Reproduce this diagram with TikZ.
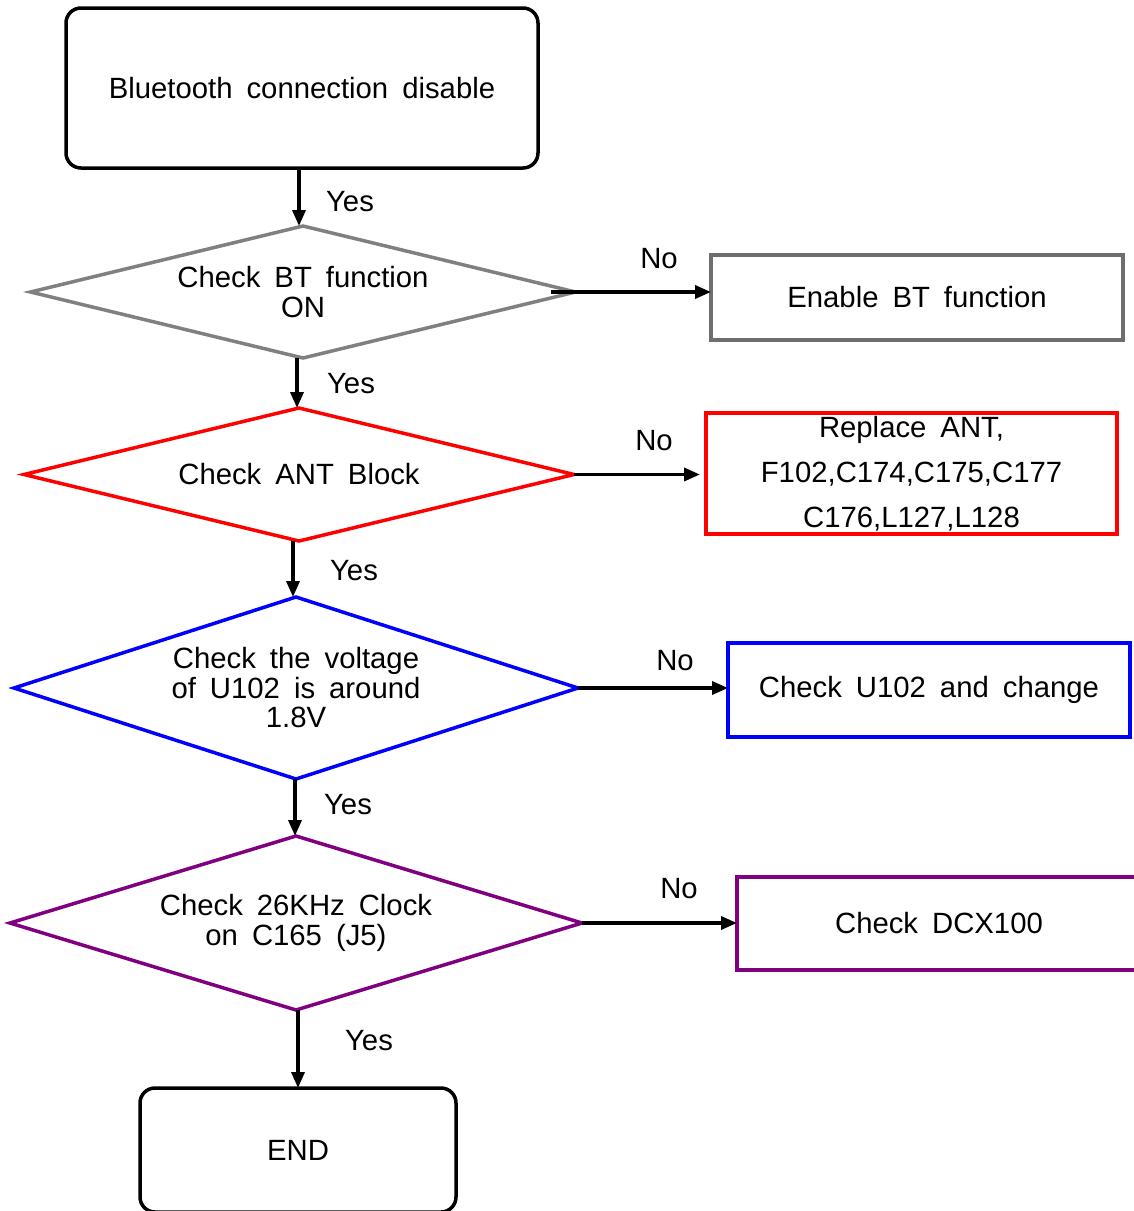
\documentclass[tikz,border=0pt]{standalone}
\usepackage{fontspec}
\setmainfont{Liberation Sans}
\usetikzlibrary{shapes.geometric,arrows.meta}
\newcommand\ffont{\fontsize{29.3}{29.5}\selectfont\spaceskip=14pt plus 1pt\relax}
\newcommand\rfont{\fontsize{29.3}{45}\selectfont\spaceskip=14pt plus 1pt\relax}
\definecolor{dgray}{RGB}{128,128,128}
\definecolor{bgray}{RGB}{110,110,110}
\definecolor{pur}{RGB}{128,0,128}
\begin{document}
\begin{tikzpicture}[x=1pt,y=-1pt,
  every node/.style={font=\ffont, inner sep=0pt, outer sep=0pt, align=center},
  roundbox/.style={draw=black, line width=3.5pt, rounded corners=15pt, rectangle},
  plainbox/.style={draw, line width=3.5pt, rectangle},
  dec/.style={draw, line width=3.5pt, diamond},
  arr/.style={draw=black, line width=3.5pt, -{Triangle[length=16pt,width=13pt]}}]
\useasboundingbox (0,0) rectangle (1134,1211);
\clip (0,0) rectangle (1134,1211);

\node[roundbox, minimum width=472pt, minimum height=160pt] (s) at (302,88) {Bluetooth connection disable};
\node[dec, draw=dgray, aspect=4.2, minimum width=545pt, minimum height=132pt] (d1) at (303,292) {Check BT function\\ON};
\node[plainbox, draw=bgray, minimum width=412pt, minimum height=85pt] (en) at (917,297.5) {Enable BT function};
\node[dec, draw=red, aspect=4.17, minimum width=550pt, minimum height=133pt] (d2) at (299,474.5) {Check ANT Block};
\node[plainbox, draw=red, minimum width=411pt, minimum height=121pt, font=\rfont] (rp) at (911.5,473.5) {Replace ANT,\\F102,C174,C175,C177\\C176,L127,L128};
\node[dec, draw=blue, aspect=3.11, minimum width=564pt, minimum height=182pt] (d3) at (296,688) {Check the voltage\\of U102 is around\\1.8V};
\node[plainbox, draw=blue, minimum width=402pt, minimum height=94pt] (u) at (929,690) {Check U102 and change};
\node[dec, draw=pur, aspect=3.3, minimum width=572pt, minimum height=174pt] (d4) at (296,923) {Check 26KHz Clock\\on C165 (J5)};
\node[plainbox, draw=pur, minimum width=404pt, minimum height=93pt] (dc) at (939,923.5) {Check DCX100};
\node[roundbox, minimum width=316pt, minimum height=124pt] (e) at (298,1150) {END};

\draw[arr] ([xshift=-3pt]s.south) -- ([xshift=-3pt]s.south |- d1.north);
\draw[arr] ([xshift=-2pt]d2.north |- d1.south) -- ([xshift=-2pt]d2.north);
\draw[arr] ([xshift=-3pt]d3.north |- d2.south) -- ([xshift=-3pt]d3.north);
\draw[arr] ([xshift=-1pt]d4.north |- d3.south) -- ([xshift=-1pt]d4.north);
\draw[arr] (e.north |- d4.south) -- (e.north);

\draw[arr] ([xshift=-25pt]d1.east) -- (d1.east -| en.west);
\draw[arr] (d2.east) -- ([xshift=-6pt]d2.east -| rp.west);
\draw[arr] (d3.east) -- (d3.east -| u.west);
\draw[arr] (d4.east) -- (d4.east -| dc.west);

\node (y1) at (350,202) {Yes};
\node (y2) at (351,384) {Yes};
\node (y3) at (354,571) {Yes};
\node (y4) at (348,805) {Yes};
\node (y5) at (369,1041) {Yes};
\node (n1) at (659,259) {No};
\node (n2) at (654,441) {No};
\node (n3) at (675,661) {No};
\node (n4) at (679,889) {No};
\end{tikzpicture}
\end{document}
